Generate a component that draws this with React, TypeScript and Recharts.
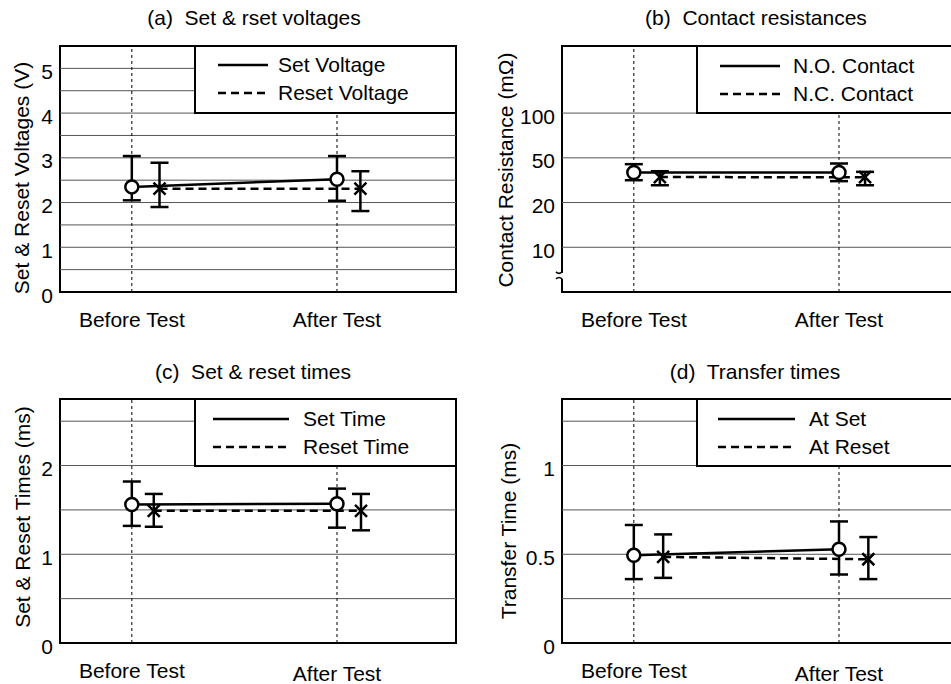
import React from "react";
import {
  LineChart,
  Line,
  XAxis,
  YAxis,
  ErrorBar,
  ReferenceLine,
  ReferenceArea,
  ReferenceDot,
  Legend,
} from "recharts";

const categories = ["Before Test", "After Test"];

// (a) set & reset voltages (V)
const setVoltage = [2.35, 2.52];
const setVoltageLow = [2.05, 2.04];
const setVoltageHigh = [3.04, 3.04];
const resetVoltage = [2.31, 2.31];
const resetVoltageLow = [1.9, 1.81];
const resetVoltageHigh = [2.89, 2.7];
const voltageTicks = [0, 1, 2, 3, 4, 5];

// (b) contact resistances (mOhm), axis is 10-20-50-100 steps
const noContact = [37, 37];
const noContactLow = [31.6, 31];
const noContactHigh = [43.9, 44.5];
const ncContact = [33.7, 33.6];
const ncContactLow = [28.5, 28.5];
const ncContactHigh = [38, 37.5];
const resistanceTicks = [10, 20, 50, 100];

// (c) set & reset times (ms)
const setTime = [1.56, 1.57];
const setTimeLow = [1.32, 1.3];
const setTimeHigh = [1.82, 1.74];
const resetTime = [1.49, 1.49];
const resetTimeLow = [1.31, 1.27];
const resetTimeHigh = [1.68, 1.68];
const timeTicks = [0, 1, 2];

// (d) transfer times (ms)
const transferSet = [0.494, 0.528];
const transferSetLow = [0.36, 0.386];
const transferSetHigh = [0.665, 0.685];
const transferReset = [0.485, 0.472];
const transferResetLow = [0.367, 0.36];
const transferResetHigh = [0.612, 0.597];
const transferTicks = [0, 0.5, 1];

const FONT = '"Liberation Sans", Arial, Helvetica, sans-serif';
const FS = 21;
const X_DOMAIN: [number, number] = [0.65, 2.58];
const DASH = "8 5";

const identity = (v: number) => v;

// piecewise log position on the 10/20/50/100 axis (10 -> 1, 100 -> 4)
const resistancePos = (v: number) => {
  for (let i = 0; i < resistanceTicks.length - 1; i++) {
    const a = resistanceTicks[i];
    const b = resistanceTicks[i + 1];
    if (v <= b || i === resistanceTicks.length - 2) {
      return 1 + i + Math.log(v / a) / Math.log(b / a);
    }
  }
  return 0;
};

type Series = {
  name: string;
  values: number[];
  low: number[];
  high: number[];
  dashed?: boolean;
  marker: "circle" | "cross";
};

const circleDot = (p: any) => (
  <circle key={`c${p.index}`} cx={p.cx} cy={p.cy} r={6.5} fill="#fff" stroke="#000" strokeWidth={2.5} />
);

const crossDot = (p: any) => (
  <path
    key={`x${p.index}`}
    d={`M${p.cx - 6},${p.cy - 6}L${p.cx + 6},${p.cy + 6}M${p.cx + 6},${p.cy - 6}L${p.cx - 6},${p.cy + 6}`}
    stroke="#000"
    strokeWidth={2.5}
    fill="none"
  />
);

const XTick = (props: any) => {
  const { x, y, payload, afterDy } = props;
  return (
    <text
      x={x}
      y={y + 35 + (payload.value === 2 ? afterDy : 0)}
      textAnchor="middle"
      fontSize={FS}
      fontFamily={FONT}
      fill="#000"
    >
      {categories[payload.value - 1]}
    </text>
  );
};

const YTick = (props: any) => {
  const { x, y, payload, fmt } = props;
  return (
    <text
      x={x}
      y={y + 3}
      textAnchor="end"
      dominantBaseline="central"
      fontSize={FS}
      fontFamily={FONT}
      fill="#000"
    >
      {fmt(payload.value)}
    </text>
  );
};

const YLabel = (props: any) => {
  const { viewBox, text, x0, dy } = props;
  const cx = viewBox.x + x0;
  const cy = viewBox.y + viewBox.height / 2 + dy;
  return (
    <text
      x={cx}
      y={cy}
      transform={`rotate(-90 ${cx} ${cy})`}
      textAnchor="middle"
      dominantBaseline="central"
      fontSize={FS}
      fontFamily={FONT}
      fill="#000"
    >
      {text}
    </text>
  );
};

const BreakMark = (props: any) => {
  const { cx, cy } = props;
  return (
    <g>
      <rect x={cx - 3} y={cy - 3} width={6} height={6} fill="#fff" />
      <path
        d={`M${cx - 6},${cy - 4} q3,3 6,0 M${cx - 6},${cy + 3} q3,-3 6,0`}
        stroke="#000"
        strokeWidth={1.5}
        fill="none"
      />
    </g>
  );
};

type LegendCfg = { left: number; top: number; width: number; height: number; lineX: number; lineLen: number; textX: number; rows: number[] };

const LegendBox = ({ series, cfg }: { series: Series[]; cfg: LegendCfg }) => (
  <div style={{ position: "relative", width: "100%", height: "100%", fontFamily: FONT, fontSize: FS, color: "#000" }}>
    {series.map((s, k) => (
      <React.Fragment key={s.name}>
        <svg
          width={cfg.lineLen}
          height={4}
          style={{ position: "absolute", left: cfg.lineX - 2, top: cfg.rows[k] - 2 - 2 }}
        >
          <line x1={0} y1={2} x2={cfg.lineLen} y2={2} stroke="#000" strokeWidth={2.5} strokeDasharray={s.dashed ? DASH : undefined} />
        </svg>
        <span
          style={{ position: "absolute", left: cfg.textX - 2, top: cfg.rows[k] - 2 - 12, lineHeight: "24px", whiteSpace: "nowrap" }}
        >
          {s.name}
        </span>
      </React.Fragment>
    ))}
  </div>
);

type PanelProps = {
  left: number;
  top: number;
  width: number;
  height: number;
  marginTop: number;
  marginRight: number;
  yAxisWidth: number;
  xAxisHeight: number;
  title: string;
  titleX: number;
  titleY: number;
  yLabel: string;
  yLabelX: number;
  yLabelDy: number;
  yDomain: [number, number];
  yTicks: number[];
  grid: number[];
  fmt: (v: number) => string;
  pos?: (v: number) => number;
  series: Series[];
  shift: number[];
  legend: LegendCfg;
  afterDy?: number;
  breakAt?: number;
};

const Panel = (p: PanelProps) => {
  const pos = p.pos || identity;
  const rows = p.series.map((s, k) =>
    s.values.map((v, i) => {
      const y = pos(v);
      return {
        x: i + 1 + (k === 1 ? p.shift[i] : 0),
        y,
        err: [y - pos(s.low[i]), pos(s.high[i]) - y],
      };
    })
  );
  return (
    <div style={{ position: "absolute", left: p.left, top: p.top, width: p.width, height: p.height }}>
      <div
        style={{
          position: "absolute",
          left: p.titleX - 200,
          width: 400,
          top: p.titleY - 12,
          lineHeight: "24px",
          textAlign: "center",
          fontFamily: FONT,
          fontSize: FS,
          whiteSpace: "pre",
        }}
      >
        {p.title}
      </div>
      <LineChart
        width={p.width}
        height={p.height}
        margin={{ top: p.marginTop, right: p.marginRight, left: 0, bottom: 0 }}
      >
        <XAxis
          type="number"
          dataKey="x"
          domain={X_DOMAIN}
          allowDataOverflow
          ticks={[1, 2]}
          interval={0}
          tick={<XTick afterDy={p.afterDy || 0} />}
          axisLine={false}
          tickLine={false}
          tickSize={0}
          tickMargin={0}
          height={p.xAxisHeight}
        />
        <YAxis
          type="number"
          domain={p.yDomain}
          allowDataOverflow
          ticks={p.yTicks}
          interval={0}
          tick={<YTick fmt={p.fmt} />}
          axisLine={false}
          tickLine={false}
          tickSize={0}
          tickMargin={7}
          width={p.yAxisWidth}
          label={<YLabel text={p.yLabel} x0={p.yLabelX} dy={p.yLabelDy} />}
        />
        {p.grid.map((g) => (
          <ReferenceLine key={`g${g}`} y={g} stroke="#555" strokeWidth={1} />
        ))}
        <ReferenceLine x={1} stroke="#000" strokeWidth={1} strokeDasharray="3 3" />
        <ReferenceLine x={2} stroke="#000" strokeWidth={1} strokeDasharray="3 3" />
        <ReferenceArea
          x1={X_DOMAIN[0]}
          x2={X_DOMAIN[1]}
          y1={p.yDomain[0]}
          y2={p.yDomain[1]}
          fill="none"
          fillOpacity={0}
          stroke="#000"
          strokeWidth={2}
        />
        {p.breakAt !== undefined && (
          <ReferenceDot x={X_DOMAIN[0]} y={p.breakAt} ifOverflow="visible" shape={BreakMark} />
        )}
        {p.series.map((s, k) => (
          <Line
            key={s.name}
            data={rows[k]}
            dataKey="y"
            name={s.name}
            stroke="#000"
            strokeWidth={2.5}
            strokeDasharray={s.dashed ? DASH : undefined}
            dot={s.marker === "circle" ? circleDot : crossDot}
            activeDot={false}
            isAnimationActive={false}
          >
            <ErrorBar dataKey="err" direction="y" width={9} stroke="#000" strokeWidth={2.5} isAnimationActive={false} />
          </Line>
        ))}
        <Legend
          layout="horizontal"
          verticalAlign="middle"
          align="center"
          content={() => <LegendBox series={p.series} cfg={p.legend} />}
          wrapperStyle={{
            left: p.legend.left,
            top: p.legend.top,
            width: p.legend.width,
            height: p.legend.height,
            border: "2px solid #000",
            background: "#fff",
            boxSizing: "border-box",
          }}
        />
      </LineChart>
    </div>
  );
};

const num = (v: number) => String(v);

export default function App() {
  return (
    <div
      style={{
        position: "absolute",
        left: 0,
        top: 0,
        width: 951,
        height: 684,
        overflow: "hidden",
        background: "#fff",
      }}
    >
      <Panel
        left={0}
        top={0}
        width={475}
        height={340}
        marginTop={46}
        marginRight={19}
        yAxisWidth={60}
        xAxisHeight={48}
        title="(a)  Set & rset voltages"
        titleX={254}
        titleY={18}
        yLabel="Set & Reset Voltages (V)"
        yLabelX={21}
        yLabelDy={9}
        yDomain={[0, 5.5]}
        yTicks={voltageTicks}
        grid={[0.5, 1, 1.5, 2, 2.5, 3, 3.5, 4, 4.5, 5]}
        fmt={num}
        series={[
          { name: "Set Voltage", values: setVoltage, low: setVoltageLow, high: setVoltageHigh, marker: "circle" },
          { name: "Reset Voltage", values: resetVoltage, low: resetVoltageLow, high: resetVoltageHigh, marker: "cross", dashed: true },
        ]}
        shift={[0.135, 0.114]}
        legend={{ left: 194, top: 45, width: 263, height: 69, lineX: 24, lineLen: 50, textX: 84, rows: [20, 48] }}
      />
      <Panel
        left={475}
        top={0}
        width={500}
        height={340}
        marginTop={46}
        marginRight={17}
        yAxisWidth={87}
        xAxisHeight={48}
        title="(b)  Contact resistances"
        titleX={281}
        titleY={18}
        yLabel="Contact Resistance (mΩ)"
        yLabelX={30}
        yLabelDy={1}
        yDomain={[0, 5.5]}
        yTicks={[1, 2, 3, 4]}
        grid={[1, 2, 3, 4]}
        fmt={(v) => String(resistanceTicks[v - 1])}
        pos={resistancePos}
        breakAt={0.36}
        series={[
          { name: "N.O. Contact", values: noContact, low: noContactLow, high: noContactHigh, marker: "circle" },
          { name: "N.C. Contact", values: ncContact, low: ncContactLow, high: ncContactHigh, marker: "cross", dashed: true },
        ]}
        shift={[0.127, 0.127]}
        legend={{ left: 221, top: 45, width: 279, height: 69, lineX: 24, lineLen: 60, textX: 97, rows: [21, 49] }}
      />
      <Panel
        left={0}
        top={340}
        width={475}
        height={344}
        marginTop={59}
        marginRight={19}
        yAxisWidth={60}
        xAxisHeight={41}
        title="(c)  Set & reset times"
        titleX={253}
        titleY={32}
        yLabel="Set & Reset Times (ms)"
        yLabelX={22}
        yLabelDy={-4}
        yDomain={[0, 2.75]}
        yTicks={timeTicks}
        grid={[0.5, 1, 1.5, 2, 2.5]}
        fmt={num}
        afterDy={3}
        series={[
          { name: "Set Time", values: setTime, low: setTimeLow, high: setTimeHigh, marker: "circle" },
          { name: "Reset Time", values: resetTime, low: resetTimeLow, high: resetTimeHigh, marker: "cross", dashed: true },
        ]}
        shift={[0.107, 0.117]}
        legend={{ left: 194, top: 58, width: 263, height: 69, lineX: 19, lineLen: 76, textX: 109, rows: [21, 49] }}
      />
      <Panel
        left={475}
        top={340}
        width={500}
        height={344}
        marginTop={59}
        marginRight={17}
        yAxisWidth={87}
        xAxisHeight={41}
        title="(d)  Transfer times"
        titleX={280}
        titleY={32}
        yLabel="Transfer Time (ms)"
        yLabelX={33}
        yLabelDy={10}
        yDomain={[0, 1.375]}
        yTicks={transferTicks}
        grid={[0.25, 0.5, 0.75, 1, 1.25]}
        fmt={num}
        afterDy={3}
        series={[
          { name: "At Set", values: transferSet, low: transferSetLow, high: transferSetHigh, marker: "circle" },
          { name: "At Reset", values: transferReset, low: transferResetLow, high: transferResetHigh, marker: "cross", dashed: true },
        ]}
        shift={[0.143, 0.143]}
        legend={{ left: 221, top: 58, width: 279, height: 69, lineX: 22, lineLen: 77, textX: 113, rows: [21, 49] }}
      />
    </div>
  );
}
